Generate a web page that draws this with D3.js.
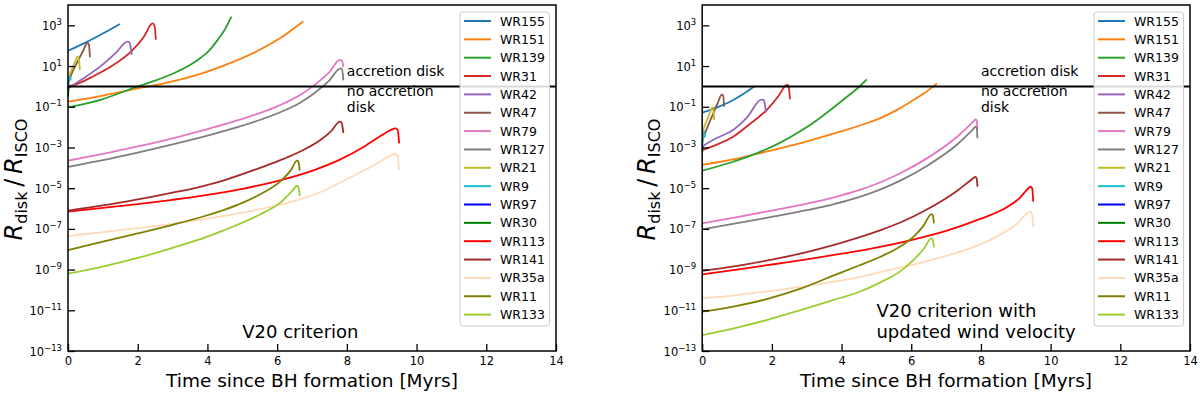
<!DOCTYPE html>
<html>
<head>
<meta charset="utf-8">
<script src="https://cdn.jsdelivr.net/npm/d3@7"></script>
<style>
  body { margin: 0; background: #fff; }
  text { font-family: "DejaVu Sans", sans-serif; }
</style>
</head>
<body>
<svg id="fig" width="1200" height="394"></svg>
<script>
// legend order
var stars = ["WR155", "WR151", "WR139", "WR31", "WR42", "WR47", "WR79", "WR127", "WR21",
             "WR9", "WR97", "WR30", "WR113", "WR141", "WR35a", "WR11", "WR133"];
var colors = ["#1f77b4", "#ff7f0e", "#2ca02c", "#d62728", "#9467bd", "#8c564b", "#e377c2", "#7f7f7f", "#bcbd22",
              "#17becf", "#0000ff", "#008000", "#ff0000", "#a52a2a", "#ffdab9", "#808000", "#9acd32"];

var xTicks = [0, 2, 4, 6, 8, 10, 12, 14];
var yTickExps = [3, 1, -1, -3, -5, -7, -9, -11, -13];

// [time since BH formation (Myr), log10(Rdisk/Risco)]  -- V20 criterion
var v20_WR155 = [[0,1.75],[0.5,2.15],[1,2.6],[1.49,3.07]];
var v20_WR151 = [[0,-0.75],[1,-0.45],[2,-0.1],[3,0.25],[3.8,0.62],[4.5,1.05],[5.5,1.8],[6.2,2.5],[6.75,3.2]];
var v20_WR139 = [[0,-1.03],[1,-0.62],[1.68,-0.2],[2,0],[2.5,0.28],[3,0.62],[3.5,1.05],[3.8,1.4],[4.07,1.8],[4.3,2.3],[4.5,2.8],[4.69,3.43]];
var v20_WR31  = [[0,0],[0.3,0.15],[0.73,0.5],[1.3,1.05],[1.83,1.75],[2.2,2.5],[2.38,3.05],[2.44,3.1],[2.49,2.9],[2.52,2.3]];
var v20_WR42  = [[0,-0.1],[0.4,0.35],[0.92,0.97],[1.4,1.7],[1.7,2.2],[1.76,2.18],[1.8,1.9],[1.83,1.55]];
var v20_WR47  = [[0,0.1],[0.1,0.6],[0.25,1.13],[0.45,1.8],[0.56,2.15],[0.6,2.05],[0.63,1.43]];
var v20_WR79  = [[0,-3.65],[1,-3.32],[2,-2.95],[3,-2.55],[4,-2.1],[5,-1.6],[6,-0.98],[6.66,-0.42],[7.13,0.15],[7.5,0.7],[7.8,1.3],[7.86,1.25],[7.9,0.95]];
var v20_WR127 = [[0,-3.95],[1,-3.62],[2,-3.25],[3,-2.85],[4,-2.42],[5,-1.93],[6,-1.33],[6.66,-0.8],[7.13,-0.25],[7.5,0.3],[7.82,0.89],[7.86,0.85],[7.9,0.3]];
var v20_WR21  = [[0,0.3],[0.1,0.8],[0.2,1.2],[0.27,1.46],[0.31,1.35],[0.34,0.8]];
var v20_WR9   = [[0,0],[0.04,0.4],[0.06,0.5],[0.08,0.3]];
var v20_WR97  = [[0,-0.1],[0.02,0.05]];
var v20_WR30  = [[0,-0.5],[0.01,-0.25],[0.02,0]];
var v20_WR113 = [[0,-6.15],[1,-5.97],[2,-5.78],[3,-5.57],[4,-5.33],[5,-5.03],[6,-4.65],[7,-4.15],[7.8,-3.6],[8.5,-2.95],[9,-2.4],[9.25,-2.15],[9.4,-2.06],[9.46,-2.15],[9.5,-2.8]];
var v20_WR141 = [[0,-6.1],[1,-5.85],[2,-5.55],[3,-5.22],[3.79,-4.93],[4.5,-4.6],[5.51,-4.0],[6.2,-3.55],[6.66,-3.2],[7.23,-2.65],[7.55,-2.2],[7.8,-1.73],[7.85,-1.78],[7.9,-2.3]];
var v20_WR35a = [[0,-7.35],[1,-7.16],[2,-6.96],[3,-6.75],[4,-6.5],[5,-6.2],[6,-5.85],[6.66,-5.55],[7.23,-5.2],[8,-4.55],[8.8,-3.85],[9.2,-3.45],[9.4,-3.32],[9.46,-3.42],[9.5,-4.1]];
var v20_WR11  = [[0,-8.04],[1,-7.63],[2,-7.22],[3,-6.8],[4,-6.33],[4.5,-6.05],[5,-5.72],[5.51,-5.3],[6.1,-4.65],[6.4,-4.1],[6.57,-3.65],[6.61,-3.7],[6.65,-4.14]];
var v20_WR133 = [[0,-9.2],[1,-8.85],[2,-8.43],[3,-7.93],[4,-7.38],[4.5,-7.05],[5.51,-6.29],[6.1,-5.7],[6.45,-5.1],[6.57,-4.88],[6.61,-4.95],[6.65,-5.39]];

// V20 criterion with updated wind velocity
var upd_WR155 = [[0,-1.29],[0.5,-0.98],[0.89,-0.67],[1.2,-0.35],[1.49,0.0]];
var upd_WR151 = [[0,-3.85],[1,-3.55],[1.56,-3.32],[2.8,-2.8],[4,-2.2],[4.72,-1.81],[5.1,-1.57],[5.67,-1.08],[6.06,-0.67],[6.4,-0.3],[6.74,0.15]];
var upd_WR139 = [[0,-4.14],[0.8,-3.75],[1.56,-3.29],[2.2,-2.8],[2.8,-2.22],[3.3,-1.65],[3.76,-1.05],[4.2,-0.45],[4.53,0.02],[4.72,0.35]];
var upd_WR31  = [[0,-3.13],[0.5,-2.8],[0.89,-2.47],[1.4,-1.8],[1.85,-1.16],[2.2,-0.45],[2.4,0.05],[2.45,0.07],[2.49,-0.1],[2.52,-0.63]];
var upd_WR42  = [[0,-2.95],[0.4,-2.55],[0.89,-2.14],[1.3,-1.5],[1.7,-0.65],[1.76,-0.66],[1.8,-0.9],[1.83,-1.29]];
var upd_WR47  = [[0,-2.7],[0.15,-2.0],[0.3,-1.4],[0.45,-0.8],[0.56,-0.4],[0.6,-0.45],[0.63,-1.0]];
var upd_WR79  = [[0,-6.73],[1,-6.42],[2,-6.1],[3,-5.76],[3.76,-5.46],[4.5,-5.1],[5.1,-4.72],[5.67,-4.28],[6.53,-3.45],[7.3,-2.5],[7.75,-1.78],[7.85,-1.62],[7.88,-1.7],[7.9,-2.14]];
var upd_WR127 = [[0,-7.02],[1,-6.72],[2,-6.41],[3,-6.08],[3.76,-5.79],[4.5,-5.44],[5.1,-5.07],[5.67,-4.64],[6.53,-3.82],[7.3,-2.88],[7.75,-2.15],[7.85,-1.98],[7.88,-2.05],[7.9,-2.55]];
var upd_WR21  = [[0,-2.3],[0.1,-1.8],[0.2,-1.4],[0.29,-1.03],[0.32,-1.1],[0.34,-1.65]];
var upd_WR9   = [[0,-2.9],[0.04,-2.4],[0.06,-2.2],[0.08,-2.5]];
var upd_WR97  = [[0,-3.1],[0.02,-2.95]];
var upd_WR30  = [[0,-3.2],[0.02,-3.05]];
var upd_WR113 = [[0,-9.23],[1,-9.0],[2,-8.75],[3,-8.5],[4,-8.22],[5,-7.92],[6,-7.55],[7,-7.1],[8,-6.5],[8.73,-5.95],[9.1,-5.5],[9.3,-5.12],[9.42,-4.93],[9.47,-5.0],[9.5,-5.67]];
var upd_WR141 = [[0,-9.06],[1,-8.82],[1.85,-8.56],[3,-8.14],[3.76,-7.8],[4.5,-7.42],[5.1,-7.07],[5.67,-6.7],[6.5,-6.0],[7.3,-5.15],[7.7,-4.62],[7.85,-4.44],[7.88,-4.55],[7.9,-4.93]];
var upd_WR35a = [[0,-10.41],[1,-10.25],[2,-10.05],[3,-9.8],[3.76,-9.6],[4.5,-9.37],[5.1,-9.13],[6,-8.78],[7,-8.33],[8,-7.75],[8.45,-7.38],[9,-6.8],[9.42,-6.16],[9.47,-6.3],[9.5,-6.9]];
var upd_WR11  = [[0,-11.07],[1,-10.78],[1.85,-10.45],[2.8,-9.95],[3.76,-9.3],[4.5,-8.8],[5.1,-8.38],[5.67,-7.88],[6.06,-7.39],[6.35,-6.85],[6.58,-6.27],[6.62,-6.35],[6.65,-6.73]];
var upd_WR133 = [[0,-12.22],[1,-11.85],[1.85,-11.48],[2.8,-11.0],[3.76,-10.5],[4.5,-10.1],[5.1,-9.64],[5.67,-9.1],[6.06,-8.53],[6.35,-8.0],[6.58,-7.47],[6.62,-7.55],[6.65,-7.91]];

var v20Series = [v20_WR155, v20_WR151, v20_WR139, v20_WR31, v20_WR42, v20_WR47, v20_WR79, v20_WR127, v20_WR21,
                 v20_WR9, v20_WR97, v20_WR30, v20_WR113, v20_WR141, v20_WR35a, v20_WR11, v20_WR133];
var updSeries = [upd_WR155, upd_WR151, upd_WR139, upd_WR31, upd_WR42, upd_WR47, upd_WR79, upd_WR127, upd_WR21,
                 upd_WR9, upd_WR97, upd_WR30, upd_WR113, upd_WR141, upd_WR35a, upd_WR11, upd_WR133];

var svg = d3.select("#fig");
var top0 = 5, bottom0 = 351;

function drawPanel(p) {
  var x = d3.scaleLinear().domain([0, 14]).range([p.x0, p.x1]);
  var y = d3.scaleLog().domain([1e-13, 1e4]).range([bottom0, top0]);
  var g = svg.append("g");

  var line = d3.line()
      .x(function(d) { return x(d[0]); })
      .y(function(d) { return y(Math.pow(10, d[1])); })
      .curve(d3.curveMonotoneX);

  g.selectAll(".curve")
      .data(p.series)
      .enter().append("path")
      .attr("class", "curve")
      .attr("d", line)
      .attr("fill", "none")
      .attr("stroke", function(d, i) { return colors[i]; })
      .attr("stroke-width", 1.8);

  // disk / no disk boundary
  g.append("line")
      .attr("x1", p.x0).attr("x2", p.x1)
      .attr("y1", y(1)).attr("y2", y(1))
      .style("stroke", "#000")
      .style("stroke-width", 2);

  // frame
  g.append("rect")
      .attr("x", p.x0).attr("y", top0)
      .attr("width", p.x1 - p.x0).attr("height", bottom0 - top0)
      .attr("fill", "none").attr("stroke", "#000").attr("stroke-width", 1.5);

  var xa = g.append("g")
      .attr("transform", "translate(0," + bottom0 + ")")
      .call(d3.axisBottom(x).tickValues(xTicks).tickSize(-7).tickPadding(6).tickFormat(d3.format("d")));
  xa.select(".domain").remove();
  xa.selectAll(".tick line").attr("stroke-width", 1.3);
  xa.selectAll(".tick text").attr("font-size", "11.5px").attr("fill", "#000")
      .style("font-family", "DejaVu Sans");

  var ya = g.append("g")
      .attr("transform", "translate(" + p.x0 + ",0)")
      .call(d3.axisLeft(y).tickValues(yTickExps.map(function(e) { return Math.pow(10, e); })).tickSize(-7));
  ya.select(".domain").remove();
  ya.selectAll(".tick line").attr("stroke-width", 1.3);
  ya.selectAll(".tick text").remove();
  ya.selectAll(".tick").each(function(d, i) {
    var e = yTickExps[i];
    var t = d3.select(this).append("text")
        .attr("x", -6).attr("y", 4)
        .attr("text-anchor", "end")
        .attr("fill", "#000")
        .attr("font-size", "11.5px");
    t.append("tspan").text("10");
    t.append("tspan").attr("dy", -5).attr("font-size", "8.5px")
        .text(e < 0 ? "\u2212" + Math.abs(e) : String(e));
  });

  // axis labels
  g.append("text")
      .attr("x", (p.x0 + p.x1) / 2).attr("y", 387)
      .attr("text-anchor", "middle")
      .attr("font-size", "18.5px")
      .text("Time since BH formation [Myrs]");

  var yl = g.append("text")
      .attr("transform", "translate(" + p.ylabX + ",179.5) rotate(-90)")
      .attr("text-anchor", "middle")
      .attr("font-size", "24px");
  yl.append("tspan").attr("font-style", "italic").text("R");
  yl.append("tspan").attr("font-size", "16px").attr("dy", 5).text("disk");
  yl.append("tspan").attr("dy", -5).text("\u2009/\u2009");
  yl.append("tspan").attr("font-style", "italic").text("R");
  yl.append("tspan").attr("font-size", "16px").attr("dy", 5).text("ISCO");

  // annotations
  var ax = x(8);
  g.append("text").attr("x", ax).attr("y", y(1) - 10).attr("font-size", "14px").text("accretion disk");
  g.append("text").attr("x", ax).attr("y", y(1) + 10).attr("font-size", "14px").text("no accretion");
  g.append("text").attr("x", ax).attr("y", y(1) + 26).attr("font-size", "14px").text("disk");

  p.title.forEach(function(s, i) {
    g.append("text")
        .attr("x", x(5))
        .attr("y", 338 - (p.title.length - 1 - i) * 21.5)
        .attr("font-size", "18px")
        .text(s);
  });

  // legend
  var lx = p.x1 - 96, ly = 12;
  var lg = g.append("g").attr("transform", "translate(" + lx + "," + ly + ")");
  lg.append("rect")
      .attr("width", 89.5).attr("height", 314)
      .attr("rx", 3)
      .attr("fill", "#fff").attr("fill-opacity", 0.85)
      .attr("stroke", "#cccccc").attr("stroke-width", 1);
  var items = lg.selectAll(".item")
      .data(stars)
      .enter().append("g")
      .attr("transform", function(d, i) { return "translate(0," + (9 + i * 18.35) + ")"; });
  items.append("line")
      .attr("x1", 4).attr("x2", 31)
      .attr("stroke", function(d, i) { return colors[i]; })
      .attr("stroke-width", 2);
  items.append("text")
      .attr("x", 40).attr("y", 4.5)
      .attr("font-size", "12.5px")
      .text(function(d) { return d; });
}

drawPanel({ x0: 68, x1: 556, ylabX: 22, series: v20Series, title: ["V20 criterion"] });
drawPanel({ x0: 702.2, x1: 1190, ylabX: 655, series: updSeries, title: ["V20 criterion with", "updated wind velocity"] });
</script>
</body>
</html>
